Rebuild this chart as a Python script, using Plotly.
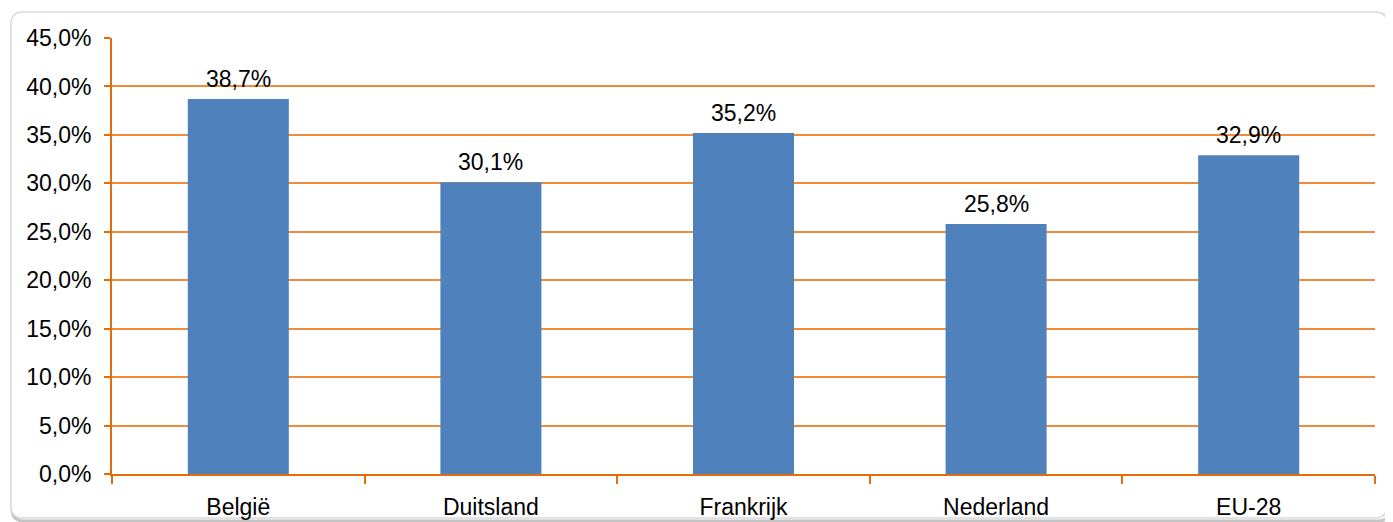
import plotly.graph_objects as go

landen = ["België", "Duitsland", "Frankrijk", "Nederland", "EU-28"]
aandeel = [0.387, 0.301, 0.352, 0.258, 0.329]

BLAUW = "#4F81BD"
ORANJE = "#E46C0A"
GRID = "#EF8B3A"

# page is drawn with an 8px body margin, so work in page pixels and shift
OFF = 8
W, H = 1393 - OFF, 522 - OFF
L, R, T, B = 112 - OFF, 1393 - 1375, 38 - OFF, 522 - 474

fig = go.Figure(go.Bar(
    x=landen, y=aandeel, marker_color=BLAUW, marker_line_width=0,
    hoverinfo="x+y",
))

for land, v in zip(landen, aandeel):
    fig.add_annotation(x=land, y=v, text=f"{v * 100:.1f}%".replace(".", ","),
                       showarrow=False, yanchor="bottom", yshift=5,
                       font=dict(size=23, color="black"))

# pixel (page) -> paper helpers for the chart-frame decoration
pw, ph = W - L - R, H - T - B
def px(x): return (x - OFF - L) / pw
def py(y): return (H - B - (y - OFF)) / ph

def rounded(x0, y0, x1, y1, r):
    return (f"M {px(x0 + r)} {py(y0)} L {px(x1 - r)} {py(y0)} "
            f"Q {px(x1)} {py(y0)} {px(x1)} {py(y0 + r)} "
            f"L {px(x1)} {py(y1 - r)} Q {px(x1)} {py(y1)} {px(x1 - r)} {py(y1)} "
            f"L {px(x0 + r)} {py(y1)} Q {px(x0)} {py(y1)} {px(x0)} {py(y1 - r)} "
            f"L {px(x0)} {py(y0 + r)} Q {px(x0)} {py(y0)} {px(x0 + r)} {py(y0)} Z")

fig.add_shape(type="path", xref="paper", yref="paper", layer="below",
              path=rounded(12, 14, 1390, 521, 12),
              line=dict(color="#C4C4C4", width=3))
fig.add_shape(type="path", xref="paper", yref="paper", layer="below",
              path=rounded(11, 12, 1387, 518, 12),
              line=dict(color="#DADADA", width=1.5), fillcolor="white")

fig.update_layout(
    width=W, height=H,
    margin=dict(l=L, r=R, t=T, b=B, autoexpand=False),
    paper_bgcolor="white", plot_bgcolor="rgba(0,0,0,0)",
    font=dict(family="Liberation Sans, Arial, sans-serif", size=23, color="black"),
    separators=",.",
    bargap=0.6,
    showlegend=False,
)
fig.update_xaxes(
    automargin=False,
    showline=True, linecolor=ORANJE, linewidth=2,
    ticks="outside", tickson="boundaries", ticklen=8, tickwidth=2, tickcolor=ORANJE,
    ticklabelstandoff=11, showgrid=False,
)
fig.update_yaxes(
    automargin=False,
    range=[0, 0.45], dtick=0.05, tickformat=".1%",
    showline=True, linecolor=ORANJE, linewidth=2,
    ticks="outside", ticklen=6, tickwidth=2, tickcolor=ORANJE,
    showgrid=True, gridcolor=GRID, gridwidth=1.5,
    ticklabelstandoff=8, zeroline=False,
)

fig.write_html("out.html")
